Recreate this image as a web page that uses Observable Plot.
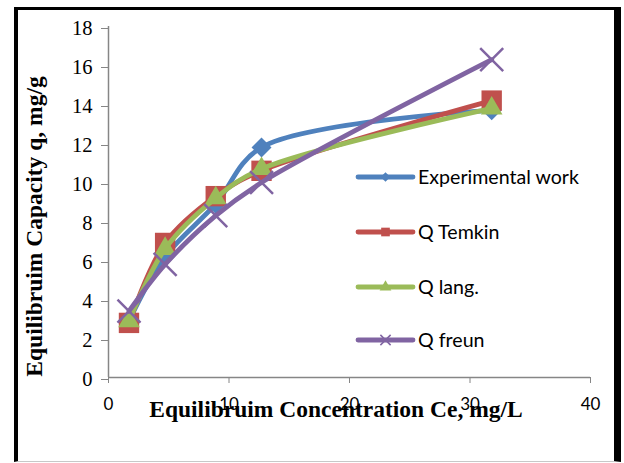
<!DOCTYPE html>
<html>
<head>
<meta charset="utf-8">
<script src="https://cdn.jsdelivr.net/npm/d3@7"></script>
<script src="https://cdn.jsdelivr.net/npm/@observablehq/plot@0.6"></script>
<style>
  html, body { margin: 0; padding: 0; background: #fff; }
  #chart { position: relative; width: 624px; height: 463px; overflow: hidden; }
  #chart svg { position: absolute; left: 0; top: 0; }
  #frame {
    position: absolute; left: 14px; top: 7px; width: 607px; height: 455px;
    box-sizing: border-box; pointer-events: none;
    border-left: 4px solid #000; border-top: 3px solid #000;
    border-right: 7px solid #000; border-bottom: 1px solid #c8c8c8;
  }
</style>
</head>
<body>
<div id="chart"><div id="frame"></div></div>
<script>
// Equilibrium concentration Ce (mg/L) for each run
const ce = [1.7, 4.7, 8.9, 12.7, 31.8];
// Equilibrium capacity q (mg/g): measured and isotherm model fits
const experimental = [2.9, 6.2, 8.9, 11.8, 13.7];
const temkin = [2.8, 6.9, 9.3, 10.6, 14.2];
const langmuir = [2.9, 6.6, 9.2, 10.7, 13.8];
const freundlich = [3.4, 5.8, 8.3, 10.0, 16.3];

const seriesNames = ["Experimental work", "Q Temkin", "Q lang.", "Q freun"];
const seriesValues = [experimental, temkin, langmuir, freundlich];
const seriesColors = ["#4F81BD", "#C0504D", "#9BBB59", "#8064A2"];
const seriesSymbols = ["diamond2", "square", "triangle", "times"];

const xTicks = [0, 10, 20, 30, 40];
const yTicks = [0, 2, 4, 6, 8, 10, 12, 14, 16, 18];

const xTitle = "Equilibruim Concentration Ce, mg/L";
const yTitle = "Equilibruim Capacity q, mg/g";

// long-format rows per series
const rows = seriesNames.map((name, i) =>
  ce.map((x, j) => ({series: name, x, q: seriesValues[i][j]}))
);

const axisGray = "#868686";
const markerRadius = {diamond2: 9, square: 11.5, triangle: 8, times: 10.5};

const seriesMarks = rows.flatMap((data, i) => {
  const sym = seriesSymbols[i];
  const color = seriesColors[i];
  const line = Plot.line(data, {x: "x", y: "q", stroke: color, strokeWidth: 4.8, curve: "catmull-rom"});
  const dot = sym === "times"
    ? Plot.dot(data, {x: "x", y: "q", symbol: sym, r: markerRadius[sym], stroke: color, strokeWidth: 2.5})
    : Plot.dot(data, {x: "x", y: "q", symbol: sym, r: markerRadius[sym], fill: color, stroke: "none"});
  return [line, dot];
});

const svg = Plot.plot({
  width: 624,
  height: 463,
  marginLeft: 108,
  marginRight: 34,
  marginTop: 26,
  marginBottom: 86,
  style: {fontFamily: "Lato, sans-serif", fontSize: "18px", color: "#000", background: "transparent", overflow: "visible"},
  x: {domain: [0, 40], ticks: xTicks, label: null},
  y: {domain: [0, 18], ticks: yTicks, label: null},
  marks: [
    Plot.axisX({ticks: xTicks, tickSize: 6, tickPadding: 14, stroke: axisGray, fill: "#000",
      fontFamily: "Lato, sans-serif", fontSize: 17, label: null}),
    Plot.axisY({ticks: yTicks, tickSize: 7, tickPadding: 9, stroke: axisGray, fill: "#000",
      fontFamily: "Liberation Serif, serif", fontSize: 20.5, dy: 2, label: null}),
    Plot.ruleX([0], {stroke: axisGray, strokeWidth: 1.5}),
    Plot.ruleY([0], {stroke: axisGray, strokeWidth: 1.5}),
    ...seriesMarks
  ]
});

document.getElementById("chart").insertBefore(svg, document.getElementById("frame"));

const root = d3.select(svg);

// axis titles
root.append("text")
  .attr("x", 336).attr("y", 417)
  .attr("text-anchor", "middle")
  .attr("font-family", "Liberation Serif, serif")
  .attr("font-weight", "bold").attr("font-size", 23.5)
  .attr("fill", "#000")
  .text(xTitle);

root.append("text")
  .attr("transform", "translate(42,226.5) rotate(-90)")
  .attr("text-anchor", "middle")
  .attr("font-family", "Liberation Serif, serif")
  .attr("font-weight", "bold").attr("font-size", 23.5)
  .attr("fill", "#000")
  .text(yTitle);

// legend
const legendY = [177, 232, 287, 340];
const legendSymbols = {
  diamond2: d3.symbolDiamond2, square: d3.symbolSquare,
  triangle: d3.symbolTriangle, times: d3.symbolTimes
};
const legendSize = {diamond2: 60, square: 75, triangle: 60, times: 70};
const legend = root.append("g");
seriesNames.forEach((name, i) => {
  const g = legend.append("g").attr("transform", `translate(0,${legendY[i]})`);
  g.append("line").attr("x1", 358).attr("x2", 413).attr("y1", 0).attr("y2", 0)
    .attr("stroke", seriesColors[i]).attr("stroke-width", 4.8).attr("stroke-linecap", "round");
  const sym = seriesSymbols[i];
  const path = g.append("path")
    .attr("transform", "translate(385.5,0)")
    .attr("d", d3.symbol(legendSymbols[sym], legendSize[sym])());
  if (sym === "times") path.attr("fill", "none").attr("stroke", seriesColors[i]).attr("stroke-width", 1.5);
  else path.attr("fill", seriesColors[i]);
  g.append("text").attr("x", 418).attr("y", 0).attr("dy", "0.36em")
    .attr("text-anchor", "start")
    .attr("font-family", "Lato, sans-serif").attr("font-size", 19.6).attr("fill", "#000")
    .text(name);
});
</script>
</body>
</html>
